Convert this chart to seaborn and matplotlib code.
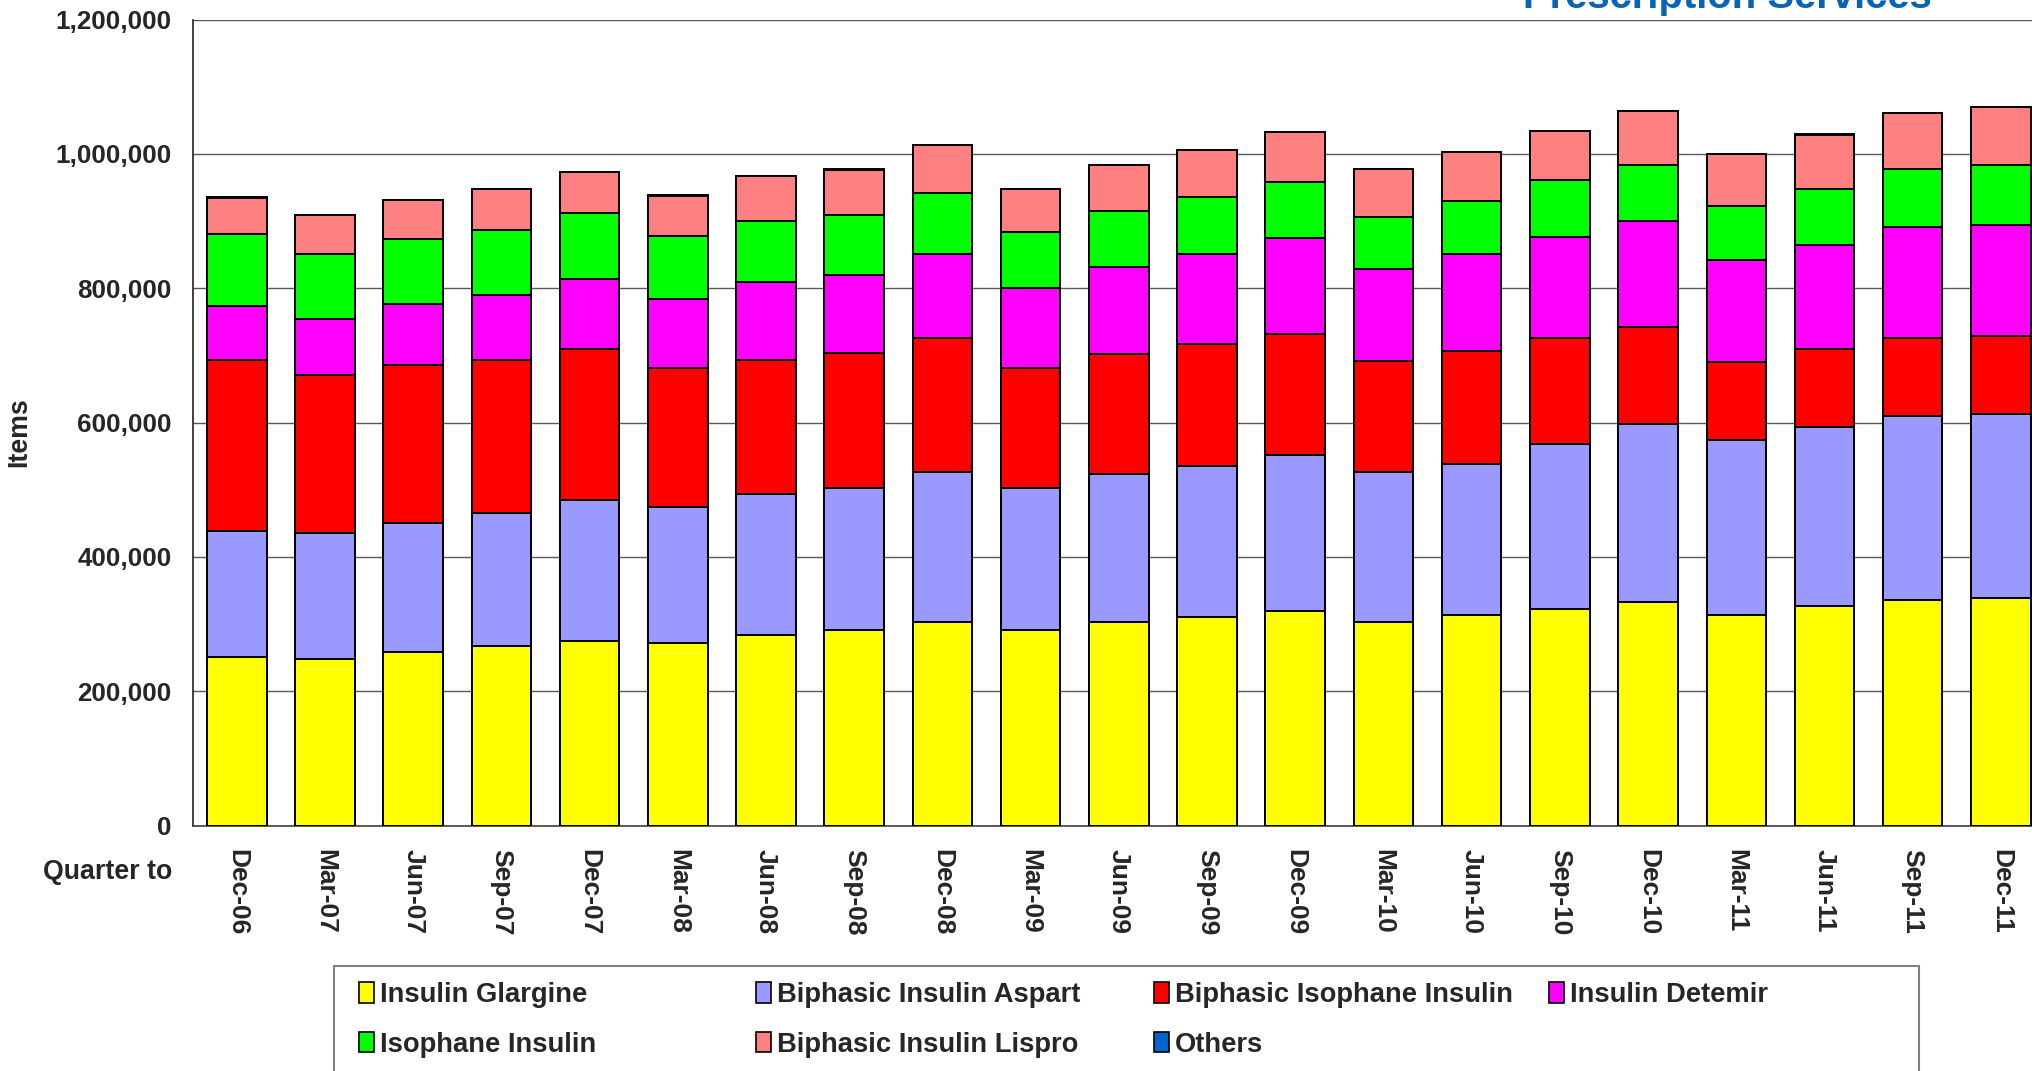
import numpy as np
import pandas as pd
import matplotlib
matplotlib.use("Agg")
import matplotlib.pyplot as plt
import seaborn as sns
from matplotlib.patches import Patch, Rectangle
from matplotlib.ticker import StrMethodFormatter

# ---------------- data ----------------
quarters = ["Dec-06", "Mar-07", "Jun-07", "Sep-07", "Dec-07", "Mar-08", "Jun-08",
            "Sep-08", "Dec-08", "Mar-09", "Jun-09", "Sep-09", "Dec-09", "Mar-10",
            "Jun-10", "Sep-10", "Dec-10", "Mar-11", "Jun-11", "Sep-11", "Dec-11"]

insulin_glargine = [251600, 248800, 258200, 268100, 275200, 271400, 284500, 291100,
                    303800, 291100, 303800, 310400, 320300, 303800, 314200, 323000,
                    332900, 313600, 326900, 336200, 338900]
biphasic_insulin_aspart = [186800, 186300, 192800, 196700, 209400, 203300, 209400,
                           212200, 222000, 212200, 219200, 224700, 231900, 222500,
                           224700, 245100, 264300, 260500, 267000, 273100, 274200]
biphasic_isophane_insulin = [255000, 235700, 235300, 228600, 225300, 206000, 199500,
                             200000, 200000, 177400, 179700, 181900, 179600, 164900,
                             168200, 158300, 144500, 116500, 115400, 116500, 115400]
insulin_detemir = [80200, 83600, 90100, 96700, 103300, 102800, 116500, 115900,
                   125300, 119300, 129200, 134100, 142400, 137900, 144500, 150500,
                   158300, 151100, 155500, 164800, 164900]
isophane_insulin = [106600, 96100, 97200, 96200, 98900, 94000, 90100, 90100, 90100,
                    83500, 83500, 84100, 83500, 77500, 77500, 84100, 84100, 80800,
                    83000, 86900, 90100]
biphasic_insulin_lispro = [54500, 58300, 57800, 61000, 61000, 60500, 67100, 67100,
                           71500, 63800, 68200, 70300, 74200, 70400, 73100, 73100,
                           79700, 77000, 80800, 83500, 86300]
others = [500, 500, 500, 500, 500, 500, 500, 500, 500, 500, 500, 500,
          500, 500, 500, 500, 500, 500, 500, 500, 500]

series_names = ["Insulin Glargine", "Biphasic Insulin Aspart", "Biphasic Isophane Insulin",
                "Insulin Detemir", "Isophane Insulin", "Biphasic Insulin Lispro", "Others"]
series_values = [insulin_glargine, biphasic_insulin_aspart, biphasic_isophane_insulin,
                 insulin_detemir, isophane_insulin, biphasic_insulin_lispro, others]
series_colors = ["#FFFF00", "#9999FF", "#FF0000", "#FF00FF", "#00FF00", "#FF8080", "#0066CC"]
y_ticks = [0, 200000, 400000, 600000, 800000, 1000000, 1200000]

# ---------------- figure ----------------
sns.set_style("white")
plt.rcParams["font.family"] = ["Liberation Sans", "DejaVu Sans"]
plt.rcParams["font.weight"] = "bold"

W, H = 2033, 1071
fig = plt.figure(figsize=(W / 100, H / 100), dpi=100)
ax_left, ax_right = 192.7 / W, 2045.0 / W
ax_bottom, ax_top = 1 - 825.7 / H, 1 - 19.5 / H
ax = fig.add_axes([ax_left, ax_bottom, ax_right - ax_left, ax_top - ax_bottom])

df = pd.DataFrame({"quarter": quarters})
cum = np.zeros(len(quarters))
cums = []
for vals in series_values:
    cum = cum + np.array(vals, dtype=float)
    cums.append(cum.copy())
for name, c in zip(series_names, cums):
    df[name] = c

# draw cumulative totals from the top series down so lower segments overlay
for name, col in reversed(list(zip(series_names, series_colors))):
    sns.barplot(data=df, x="quarter", y=name, order=quarters, color=col,
                saturation=1, edgecolor="black", linewidth=1.4, width=0.675,
                errorbar=None, ax=ax, zorder=3)

ax.set_xlim(-0.5, len(quarters) - 0.5)
ax.set_ylim(0, 1200000)
ax.set_xlabel("")
ax.set_ylabel("")

ax.set_yticks(y_ticks)
ax.yaxis.set_major_formatter(StrMethodFormatter("{x:,.0f}"))
ax.yaxis.grid(True, color="#5a5a5a", linewidth=1.0, zorder=0)
ax.xaxis.grid(False)
ax.set_axisbelow(True)

for lab in ax.get_yticklabels():
    lab.set_fontsize(18.7)
    lab.set_fontweight("bold")
ax.tick_params(axis="y", direction="inout", length=12, width=1.0, color="#333333",
               pad=9, labelsize=18.7)

ax.set_xticks(range(len(quarters)))
ax.set_xticklabels(quarters, rotation=270, fontsize=19, fontweight="bold",
                   ha="center", va="top")
ax.tick_params(axis="x", which="major", length=0, pad=17)
ax.set_xticks(np.arange(-0.5, len(quarters), 1.0), minor=True)
ax.tick_params(axis="x", which="minor", direction="inout", length=12, width=1.0,
               color="#404040")

for s in ["top", "right"]:
    ax.spines[s].set_visible(False)
ax.spines["left"].set_color("#202020")
ax.spines["left"].set_linewidth(1.2)
ax.spines["bottom"].set_color("#404040")
ax.spines["bottom"].set_linewidth(1.2)

# axis titles
fig.text(19.5 / W, 1 - 432 / H, "Items", rotation=90, ha="center", va="center",
         fontsize=19.3, fontweight="bold")
fig.text(172 / W, 1 - 872 / H, "Quarter to", ha="right", va="center",
         fontsize=19.3, fontweight="bold")

# header text (cut off at the top, as in the source image)
fig.text(1523 / W, 1 - 8 / H, "Prescription Services", color="#0a64b4",
         fontsize=28.8, fontweight="bold", ha="left", va="baseline")

# legend box
box_top = 1 - 966 / H
fig.patches.append(Rectangle((334 / W, -0.05), (1919 - 334) / W, box_top + 0.05,
                             transform=fig.transFigure, facecolor="white",
                             edgecolor="#808080", linewidth=1.5, zorder=0))

handles = {n: Patch(facecolor=c, edgecolor="black", linewidth=1.2)
           for n, c in zip(series_names, series_colors)}
columns = [
    (359, ["Insulin Glargine", "Isophane Insulin"]),
    (756, ["Biphasic Insulin Aspart", "Biphasic Insulin Lispro"]),
    (1154, ["Biphasic Isophane Insulin", "Others"]),
    (1549, ["Insulin Detemir"]),
]
for x, names in columns:
    leg = fig.legend([handles[n] for n in names], names, loc="upper left",
                     bbox_to_anchor=(x / W, 1 - 982 / H), bbox_transform=fig.transFigure,
                     frameon=False, borderpad=0, borderaxespad=0,
                     handlelength=0.55, handleheight=0.78, handletextpad=0.22,
                     labelspacing=0.86,
                     prop=dict(family="Liberation Sans", weight="bold", size=19.7))

fig.savefig("out.png", dpi=100)
